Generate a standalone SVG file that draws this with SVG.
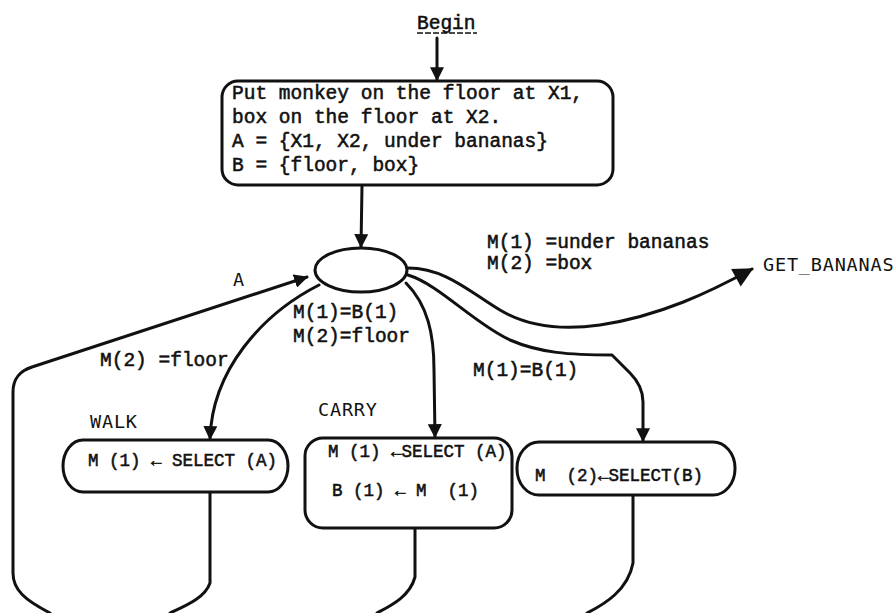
<svg xmlns="http://www.w3.org/2000/svg" width="896" height="613" viewBox="0 0 896 613">
  <style>
    .bg { fill: #ffffff; }
    .tw { font-family: "Liberation Mono", "Courier New", monospace; font-size: 19.5px; fill: #111; stroke: #111; stroke-width: 0.55; white-space: pre; }
    .tb { font-family: "Liberation Mono", "Courier New", monospace; font-size: 17.5px; fill: #111; stroke: #111; stroke-width: 0.55; white-space: pre; }
    .gt { font-family: "DejaVu Sans Mono", monospace; font-size: 18.5px; letter-spacing: 0.8px; fill: #111; white-space: pre; }
    .node { fill: #ffffff; stroke: #111; stroke-width: 3; }
    .edge { fill: none; stroke: #111; stroke-width: 3; stroke-linejoin: round; stroke-linecap: round; }
  </style>
  <defs>
    <marker id="ah" viewBox="0 0 12 12" refX="11" refY="6" markerWidth="14" markerHeight="14" markerUnits="userSpaceOnUse" orient="auto">
      <path d="M0,0 L12,6 L0,12 z" fill="#111"/>
    </marker>
    <marker id="ahBig" viewBox="0 0 12 12" refX="11" refY="6" markerWidth="22" markerHeight="20" markerUnits="userSpaceOnUse" orient="auto">
      <path d="M0,0 L12,6 L0,12 z" fill="#111"/>
    </marker>
  </defs>

  <rect class="bg" x="0" y="0" width="896" height="613"/>

  <!-- connectors -->
  <g id="connectors">
    <!-- Begin -> initial box -->
    <path class="edge" d="M437,38 L437,80" marker-end="url(#ah)"/>
    <!-- initial box -> test -->
    <path class="edge" d="M362,186 L361,247" marker-end="url(#ah)"/>
    <!-- test -> GET_BANANAS -->
    <path class="edge" d="M408,268 C445,268 470,292 500,310 C530,328 565,330 600,325 C660,316 710,292 752,269" marker-end="url(#ahBig)"/>
    <!-- test -> WALK -->
    <path class="edge" d="M319,285 C262,314 212,370 210,439" marker-end="url(#ah)"/>
    <!-- test -> CARRY -->
    <path class="edge" d="M406,283 C428,305 434,335 434,370 L435,437" marker-end="url(#ah)"/>
    <!-- test -> SELECT(B) -->
    <path class="edge" d="M408,275 C440,285 472,322 510,340 C540,353 570,355 612,355 L630,373 Q643,386 643,402 L643,441" marker-end="url(#ah)"/>
    <!-- return loop A -->
    <path class="edge" d="M50,613 C25,600 13,590 13,573 L13,392 C13,378 20,371 32,367 L307,277" marker-end="url(#ah)"/>
    <!-- returns from action boxes, running below the page edge -->
    <path class="edge" d="M210,493 L210,583 C205,598 185,606 170,613"/>
    <path class="edge" d="M415,529 L415,577 C410,596 392,605 377,613"/>
    <path class="edge" d="M633,496 L633,563 C628,590 605,604 587,613"/>
  </g>

  <!-- Begin label -->
  <g id="begin">
    <text class="tw" x="417" y="29">Begin</text>
    <line x1="417" y1="33" x2="477" y2="33" stroke="#111" stroke-width="1.5" stroke-dasharray="6 2"/>
  </g>

  <!-- initial state -->
  <g id="init">
    <rect class="node" x="222" y="81" width="391" height="104" rx="16" ry="16"/>
    <text class="tw" x="232" y="99">Put monkey on the floor at X1,</text>
    <text class="tw" x="232" y="123">box on the floor at X2.</text>
    <text class="tw" x="232" y="147">A = {X1, X2, under bananas}</text>
    <text class="tw" x="232" y="171">B = {floor, box}</text>
  </g>

  <!-- test node -->
  <g id="test">
    <ellipse class="node" cx="361" cy="270" rx="46" ry="22"/>
  </g>

  <!-- edge labels -->
  <g id="labels">
    <text class="gt" x="233" y="286">A</text>
    <text class="tw" x="487" y="248">M(1) =under bananas</text>
    <text class="tw" x="487" y="269">M(2) =box</text>
    <text class="tw" x="293" y="318">M(1)=B(1)</text>
    <text class="tw" x="293" y="342">M(2)=floor</text>
    <text class="tw" x="100" y="366">M(2) =floor</text>
    <text class="tw" x="473" y="376">M(1)=B(1)</text>
  </g>

  <!-- goal -->
  <g id="get-bananas">
    <text class="gt" x="763" y="271">GET_BANANAS</text>
  </g>

  <!-- WALK action -->
  <g id="walk">
    <text class="gt" x="90" y="428">WALK</text>
    <rect class="node" x="63" y="440" width="225" height="52" rx="20" ry="26"/>
    <text class="tb" x="88" y="466">M (1) ← SELECT (A)</text>
  </g>

  <!-- CARRY action -->
  <g id="carry">
    <text class="gt" x="318" y="416">CARRY</text>
    <rect class="node" x="305" y="438" width="207" height="90" rx="18" ry="18"/>
    <text class="tb" x="328" y="457">M (1) ←SELECT (A)</text>
    <text class="tb" x="332" y="496">B (1) ← M  (1)</text>
  </g>

  <!-- box selection action -->
  <g id="select-b">
    <rect class="node" x="517" y="442" width="218" height="53" rx="22" ry="26"/>
    <text class="tb" x="535" y="481">M  (2)←SELECT(B)</text>
  </g>
</svg>
